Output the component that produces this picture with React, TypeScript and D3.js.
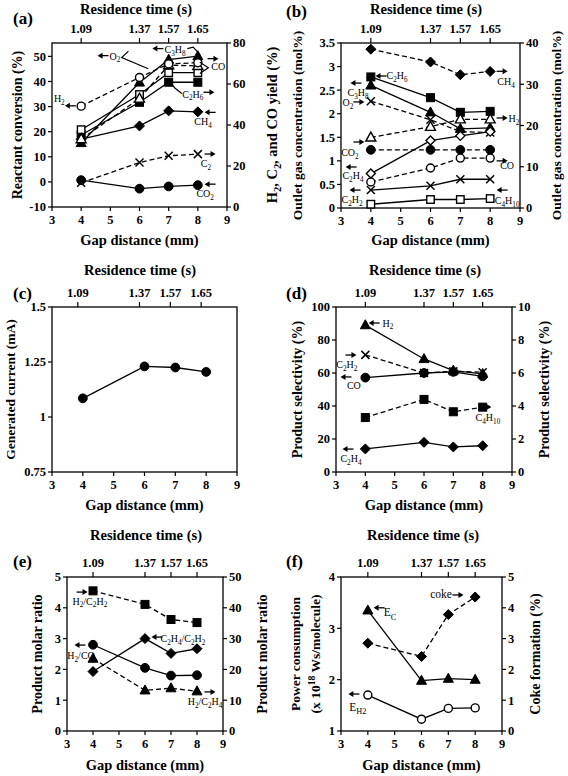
import React from 'react';
import * as d3 from 'd3';

// ---------- shared axis data ----------
const gaps = [4, 6, 7, 8];
const residenceTimes = ['1.09', '1.37', '1.57', '1.65'];
const gapTicks = [3, 4, 5, 6, 7, 8, 9];

// ---------- (a) reactant conversion (left, %) / yields (right, %) ----------
const aCH4 = [17, 22.3, 28.3, 27.9];
const aC2H6 = [18.7, 31.7, 39.7, 39.7];
const aC3H8 = [15.5, 39.6, 48.7, 50.1];
const aO2 = [20.8, 34.8, 43.5, 43.5];
const aCO2 = [0.7, -2.7, -1.8, -1.3];
const aH2 = [49.2, 63.2, 69.8, 70.4];
const aCO = [33.1, 52.9, 69.2, 68.8];
const aC2 = [11.8, 21.7, 25, 25.8];
const aLeftTicks = [-10, 0, 10, 20, 30, 40, 50];
const aRightTicks = [0, 20, 40, 60, 80];

// ---------- (b) outlet gas concentration (mol%) ----------
const bCH4 = [38.5, 35.4, 32.3, 33.1];
const bC2H6 = [2.78, 2.34, 2.03, 2.05];
const bC3H8 = [2.6, 2.03, 1.68, 1.7];
const bO2 = [25.9, 21.4, 18.5, 18.3];
const bH2 = [17.1, 19.7, 21.5, 21.5];
const bCO2 = [14.1, 14.1, 14.1, 14.1];
const bCO = [6.3, 9.7, 12.1, 12.1];
const bC2H4 = [0.73, 1.43, 1.53, 1.62];
const bC2H2 = [0.38, 0.47, 0.61, 0.61];
const bC4H10 = [0.08, 0.18, 0.18, 0.2];
const bLeftTicks = [0, 0.5, 1, 1.5, 2, 2.5, 3, 3.5];
const bRightTicks = [0, 10, 20, 30, 40];

// ---------- (c) generated current (mA) ----------
const cCurrent = [1.085, 1.23, 1.225, 1.205];
const cLeftTicks = [0.75, 1, 1.25, 1.5];

// ---------- (d) product selectivity (%) ----------
const dH2 = [89, 68.5, 61.5, 59.5];
const dC2H2 = [7.1, 6.0, 6.1, 6.05];
const dCO = [57.2, 60, 60.7, 58];
const dC4H10 = [3.3, 4.4, 3.65, 3.93];
const dC2H4 = [14, 18, 15.2, 15.9];
const dLeftTicks = [0, 20, 40, 60, 80, 100];
const dRightTicks = [0, 2, 4, 6, 8, 10];

// ---------- (e) product molar ratio ----------
const eH2C2H2 = [45.5, 41.1, 36.2, 35.2];
const eC2H4C2H2 = [1.93, 3.0, 2.52, 2.67];
const eH2CO = [2.8, 2.05, 1.8, 1.81];
const eH2C2H4 = [23.5, 13.2, 13.9, 12.9];
const eLeftTicks = [0, 1, 2, 3, 4, 5];
const eRightTicks = [0, 10, 20, 30, 40, 50];

// ---------- (f) power consumption / coke ----------
const fEC = [3.35, 1.98, 2.02, 2.0];
const fEH2 = [1.7, 1.23, 1.44, 1.45];
const fCoke = [2.85, 2.42, 3.78, 4.35];
const fLeftTicks = [1, 2, 3, 4];
const fRightTicks = [0, 1, 2, 3, 4, 5];

const FONT = "'Liberation Serif', 'Times New Roman', Times, serif";

type Series = { vals: number[]; axis: 'L' | 'R'; marker: string; dashed?: boolean };
type Note = { t: string; x: number; y: number };
type Arrow = { x: number; y: number; dir: 'l' | 'r' };

// "_x" / "_{..}" = subscript, "^{..}" = superscript
function rich(s: string, fs: number) {
  const out: any[] = [];
  let buf = '';
  let key = 0;
  let i = 0;
  let pendingDy = 0;
  const flush = () => {
    if (buf) {
      out.push(
        <tspan key={key++} dy={pendingDy || undefined}>
          {buf}
        </tspan>
      );
      pendingDy = 0;
      buf = '';
    }
  };
  while (i < s.length) {
    const c = s[i];
    if ((c === '_' || c === '^') && i + 1 < s.length) {
      flush();
      let content = '';
      if (s[i + 1] === '{') {
        const j = s.indexOf('}', i + 2);
        content = s.slice(i + 2, j);
        i = j + 1;
      } else {
        content = s[i + 1];
        i += 2;
      }
      const shift = c === '_' ? fs * 0.28 : -fs * 0.38;
      out.push(
        <tspan key={key++} fontSize={fs * 0.72} dy={shift + pendingDy}>
          {content}
        </tspan>
      );
      pendingDy = -shift;
    } else {
      buf += c;
      i++;
    }
  }
  flush();
  return out;
}

function Marker({ type, cx, cy }: { type: string; cx: number; cy: number }) {
  const open = type.endsWith('Open');
  const fill = open ? 'white' : 'black';
  const sw = open ? 1.4 : 1;
  const base = type.replace('Open', '');
  if (base === 'circle') return <circle cx={cx} cy={cy} r={open ? 4 : 4.4} fill={fill} stroke="black" strokeWidth={sw} />;
  if (base === 'square') {
    const s = open ? 7.5 : 8;
    return <rect x={cx - s / 2} y={cy - s / 2} width={s} height={s} fill={fill} stroke="black" strokeWidth={sw} />;
  }
  if (base === 'tri') {
    const h = 9;
    const w = 10;
    return (
      <path
        d={`M${cx},${cy - h * 0.6}L${cx + w / 2},${cy + h * 0.4}L${cx - w / 2},${cy + h * 0.4}Z`}
        fill={fill}
        stroke="black"
        strokeWidth={sw}
      />
    );
  }
  if (base === 'diamond') {
    const r = open ? 4.5 : 5;
    return (
      <path d={`M${cx},${cy - r}L${cx + r},${cy}L${cx},${cy + r}L${cx - r},${cy}Z`} fill={fill} stroke="black" strokeWidth={sw} />
    );
  }
  const r = 4;
  return (
    <g stroke="black" strokeWidth={1.5}>
      <line x1={cx - r} y1={cy - r} x2={cx + r} y2={cy + r} />
      <line x1={cx - r} y1={cy + r} x2={cx + r} y2={cy - r} />
    </g>
  );
}

type PanelCfg = {
  tag: string;
  x0: number; x1: number; y0: number; y1: number;
  yL: [number, number]; yLTicks: number[];
  yR?: [number, number]; yRTicks?: number[];
  resX: number; resY: number; tagX: number; tagY: number;
  leftTitle: string[]; leftTitleX: number[]; leftSize: number;
  rightTitle?: string; rightTitleX?: number; rightSize?: number;
  gapY: number; topShift: number;
  series: Series[]; notes: Note[]; arrows: Arrow[]; callouts?: [number, number][][];
  noteSize: number;
};

function Panel({ p }: { p: PanelCfg }) {
  const x = d3.scaleLinear().domain([3, 9]).range([p.x0, p.x1]);
  const yL = d3.scaleLinear().domain(p.yL).range([p.y1, p.y0]);
  const yR = p.yR ? d3.scaleLinear().domain(p.yR).range([p.y1, p.y0]) : yL;
  const midX = (p.x0 + p.x1) / 2;
  const midY = (p.y0 + p.y1) / 2;
  const fmt = (v: number) => String(v);
  const ts = { fontFamily: FONT };
  return (
    <g style={ts}>
      {/* titles */}
      <text x={p.resX} y={p.resY} textAnchor="middle" fontWeight="bold" fontSize={14.5} style={ts}>
        Residence time (s)
      </text>
      <text x={p.tagX} y={p.tagY} fontWeight="bold" fontSize={17} style={ts}>
        ({p.tag})
      </text>
      <text x={midX} y={p.gapY} textAnchor="middle" fontWeight="bold" fontSize={14.5} style={ts}>
        Gap distance (mm)
      </text>
      {p.leftTitle.map((t, i) => (
        <text
          key={i}
          transform={`translate(${p.leftTitleX[i]},${midY}) rotate(-90)`}
          textAnchor="middle"
          dy="0.35em"
          fontWeight="bold"
          fontSize={p.leftSize}
          style={ts}
        >
          {rich(t, p.leftSize)}
        </text>
      ))}
      {p.rightTitle && (
        <text
          transform={`translate(${p.rightTitleX},${midY}) rotate(-90)`}
          textAnchor="middle"
          dy="0.35em"
          fontWeight="bold"
          fontSize={p.rightSize}
          style={ts}
        >
          {rich(p.rightTitle, p.rightSize || 14)}
        </text>
      )}
      {/* frame */}
      <rect x={p.x0} y={p.y0} width={p.x1 - p.x0} height={p.y1 - p.y0} fill="none" stroke="black" strokeWidth={1.3} />
      {/* bottom ticks */}
      {gapTicks.map((g) => (
        <g key={'b' + g}>
          <line x1={x(g)} x2={x(g)} y1={p.y1} y2={p.y1 + 4} stroke="black" strokeWidth={1.2} />
          <text x={x(g)} y={p.y1 + 17} textAnchor="middle" fontWeight="bold" fontSize={12.5} style={ts}>
            {g}
          </text>
        </g>
      ))}
      {/* top ticks */}
      {gaps.map((g, i) => (
        <g key={'t' + g}>
          <line x1={x(g) + p.topShift} x2={x(g) + p.topShift} y1={p.y0} y2={p.y0 - 5} stroke="black" strokeWidth={1.2} />
          <text x={x(g) + p.topShift} y={p.y0 - 10} textAnchor="middle" fontWeight="bold" fontSize={12.5} style={ts}>
            {residenceTimes[i]}
          </text>
        </g>
      ))}
      {/* left ticks */}
      {p.yLTicks.map((v) => (
        <g key={'l' + v}>
          <line x1={p.x0 - 4} x2={p.x0} y1={yL(v)} y2={yL(v)} stroke="black" strokeWidth={1.2} />
          <text x={p.x0 - 6} y={yL(v)} dy="0.35em" textAnchor="end" fontWeight="bold" fontSize={12.5} style={ts}>
            {fmt(v)}
          </text>
        </g>
      ))}
      {/* right ticks */}
      {p.yRTicks &&
        p.yRTicks.map((v) => (
          <g key={'r' + v}>
            <line x1={p.x1} x2={p.x1 + 4} y1={yR(v)} y2={yR(v)} stroke="black" strokeWidth={1.2} />
            <text x={p.x1 + 6} y={yR(v)} dy="0.35em" textAnchor="start" fontWeight="bold" fontSize={12.5} style={ts}>
              {fmt(v)}
            </text>
          </g>
        ))}
      {/* series lines */}
      {p.series.map((s, k) => {
        const ys = s.axis === 'L' ? yL : yR;
        const line = d3
          .line<number>()
          .x((_, i) => x(gaps[i]))
          .y((v) => ys(v));
        return (
          <path
            key={'s' + k}
            d={line(s.vals) || ''}
            fill="none"
            stroke="black"
            strokeWidth={1.3}
            strokeDasharray={s.dashed ? '5,3' : undefined}
          />
        );
      })}
      {/* markers */}
      {p.series.map((s, k) => {
        const ys = s.axis === 'L' ? yL : yR;
        return (
          <g key={'m' + k}>
            {s.vals.map((v, i) => (
              <Marker key={i} type={s.marker} cx={x(gaps[i])} cy={ys(v)} />
            ))}
          </g>
        );
      })}
      {/* callouts */}
      {(p.callouts || []).map((c, k) => (
        <polyline
          key={'c' + k}
          points={c.map(([cx, cy]) => `${x(cx)},${yL(cy)}`).join(' ')}
          fill="none"
          stroke="black"
          strokeWidth={1.2}
        />
      ))}
      {/* arrows */}
      {p.arrows.map((a, k) => {
        const cx = x(a.x);
        const cy = yL(a.y);
        const d = a.dir === 'r' ? 1 : -1;
        const L = 11;
        const tip = cx + (d * L) / 2;
        const tail = cx - (d * L) / 2;
        return (
          <g key={'a' + k}>
            <line x1={tail} y1={cy} x2={tip - d * 4} y2={cy} stroke="black" strokeWidth={1.3} />
            <path d={`M${tip},${cy}L${tip - d * 5},${cy - 3}L${tip - d * 5},${cy + 3}Z`} fill="black" />
          </g>
        );
      })}
      {/* notes */}
      {p.notes.map((n, k) => (
        <text key={'n' + k} x={x(n.x)} y={yL(n.y) + p.noteSize * 0.3} textAnchor="middle" fontSize={p.noteSize} fill="black" style={ts}>
          {rich(n.t, p.noteSize)}
        </text>
      ))}
    </g>
  );
}

const panels: PanelCfg[] = [
  {
    tag: 'a', x0: 52, x1: 227, y0: 43, y1: 207,
    yL: [-10, 55.33], yLTicks: aLeftTicks, yR: [0, 80], yRTicks: aRightTicks,
    resX: 136, resY: 14, tagX: 13, tagY: 24,
    leftTitle: ['Reactant conversion (%)'], leftTitleX: [17], leftSize: 14,
    rightTitle: 'H_2, C_2, and CO yield (%)', rightTitleX: 272, rightSize: 14.5,
    gapY: 245, topShift: 0, noteSize: 10,
    series: [
      { vals: aCH4, axis: 'L', marker: 'diamond' },
      { vals: aC2H6, axis: 'L', marker: 'square' },
      { vals: aO2, axis: 'L', marker: 'squareOpen' },
      { vals: aC3H8, axis: 'L', marker: 'tri' },
      { vals: aCO, axis: 'R', marker: 'triOpen', dashed: true },
      { vals: aH2, axis: 'R', marker: 'circleOpen', dashed: true },
      { vals: aC2, axis: 'R', marker: 'x', dashed: true },
      { vals: aCO2, axis: 'L', marker: 'circle' },
    ],
    notes: [
      { t: 'H_2', x: 3.25, y: 33.1 },
      { t: 'O_2', x: 5.16, y: 49.9 },
      { t: 'C_3H_8', x: 7.22, y: 52.5 },
      { t: 'CO', x: 8.7, y: 45.9 },
      { t: 'C_2H_6', x: 7.83, y: 34.8 },
      { t: 'CH_4', x: 8.18, y: 23.7 },
      { t: 'C_2', x: 8.28, y: 7.2 },
      { t: 'CO_2', x: 8.25, y: -4.8 },
    ],
    arrows: [
      { x: 3.63, y: 30.3, dir: 'l' },
      { x: 4.75, y: 50.3, dir: 'l' },
      { x: 6.63, y: 53.1, dir: 'l' },
      { x: 8.52, y: 49.1, dir: 'r' },
      { x: 8.38, y: 35.7, dir: 'r' },
      { x: 8.42, y: 27.7, dir: 'l' },
      { x: 8.42, y: 11.1, dir: 'r' },
      { x: 8.42, y: -0.9, dir: 'l' },
    ],
    callouts: [
      [[5.62, 52.1], [5.39, 49.5], [6.3, 45.1]],
      [[7.64, 53.1], [7.84, 53.7], [8.07, 50.8]],
      [[8.07, 47.7], [8.36, 45.5], [8.07, 43.2]],
      [[7.45, 35.2], [7.2, 37.5], [7.08, 39.7]],
    ],
  },
  {
    tag: 'b', x0: 341, x1: 520, y0: 43, y1: 208,
    yL: [0, 3.5], yLTicks: bLeftTicks, yR: [0, 40], yRTicks: bRightTicks,
    resX: 426, resY: 14, tagX: 286, tagY: 17,
    leftTitle: ['Outlet gas concentration (mol%)'], leftTitleX: [297], leftSize: 13.5,
    rightTitle: 'Outlet gas concentration (mol%)', rightTitleX: 556, rightSize: 13.5,
    gapY: 245, topShift: 0, noteSize: 10,
    series: [
      { vals: bCH4, axis: 'R', marker: 'diamond', dashed: true },
      { vals: bC2H6, axis: 'L', marker: 'square' },
      { vals: bC3H8, axis: 'L', marker: 'tri' },
      { vals: bO2, axis: 'R', marker: 'x', dashed: true },
      { vals: bH2, axis: 'R', marker: 'triOpen', dashed: true },
      { vals: bCO2, axis: 'R', marker: 'circle', dashed: true },
      { vals: bCO, axis: 'R', marker: 'circleOpen', dashed: true },
      { vals: bC2H4, axis: 'L', marker: 'diamondOpen' },
      { vals: bC2H2, axis: 'L', marker: 'x' },
      { vals: bC4H10, axis: 'L', marker: 'squareOpen' },
    ],
    notes: [
      { t: 'C_2H_6', x: 4.88, y: 2.8 },
      { t: 'CH_4', x: 8.53, y: 2.67 },
      { t: 'C_3H_8', x: 3.57, y: 2.44 },
      { t: 'O_2', x: 3.23, y: 2.23 },
      { t: 'H_2', x: 8.8, y: 1.88 },
      { t: 'CO_2', x: 3.3, y: 1.17 },
      { t: 'CO', x: 8.57, y: 0.9 },
      { t: 'C_2H_4', x: 3.4, y: 0.67 },
      { t: 'C_2H_2', x: 3.37, y: 0.16 },
      { t: 'C_4H_{10}', x: 8.57, y: 0.14 },
    ],
    arrows: [
      { x: 4.34, y: 2.8, dir: 'l' },
      { x: 8.4, y: 2.9, dir: 'r' },
      { x: 3.5, y: 2.65, dir: 'l' },
      { x: 3.6, y: 2.25, dir: 'r' },
      { x: 8.4, y: 1.91, dir: 'r' },
      { x: 3.6, y: 1.4, dir: 'r' },
      { x: 8.4, y: 1.0, dir: 'r' },
      { x: 3.34, y: 0.87, dir: 'l' },
      { x: 3.47, y: 0.38, dir: 'l' },
      { x: 8.4, y: 0.38, dir: 'l' },
    ],
  },
  {
    tag: 'c', x0: 52, x1: 237, y0: 307, y1: 472,
    yL: [0.75, 1.5], yLTicks: cLeftTicks,
    resX: 140, resY: 275, tagX: 13, tagY: 299,
    leftTitle: ['Generated current (mA)'], leftTitleX: [10], leftSize: 13.5,
    gapY: 510, topShift: -5, noteSize: 10,
    series: [{ vals: cCurrent, axis: 'L', marker: 'circle' }],
    notes: [],
    arrows: [],
  },
  {
    tag: 'd', x0: 336, x1: 512, y0: 307, y1: 472,
    yL: [0, 100], yLTicks: dLeftTicks, yR: [0, 10], yRTicks: dRightTicks,
    resX: 425, resY: 275, tagX: 286, tagY: 299,
    leftTitle: ['Product selectivity (%)'], leftTitleX: [297], leftSize: 14,
    rightTitle: 'Product selectivity (%)', rightTitleX: 544, rightSize: 14,
    gapY: 510, topShift: 0, noteSize: 10,
    series: [
      { vals: dC4H10, axis: 'R', marker: 'square', dashed: true },
      { vals: dC2H2, axis: 'R', marker: 'x', dashed: true },
      { vals: dCO, axis: 'L', marker: 'circle' },
      { vals: dH2, axis: 'L', marker: 'tri' },
      { vals: dC2H4, axis: 'L', marker: 'diamond' },
    ],
    notes: [
      { t: 'H_2', x: 4.77, y: 90 },
      { t: 'C_2H_2', x: 3.37, y: 64.8 },
      { t: 'CO', x: 3.61, y: 52 },
      { t: 'C_4H_{10}', x: 8.18, y: 32.7 },
      { t: 'C_2H_4', x: 3.51, y: 7.9 },
    ],
    arrows: [
      { x: 4.3, y: 90.3, dir: 'l' },
      { x: 3.51, y: 70.9, dir: 'r' },
      { x: 3.34, y: 57.6, dir: 'l' },
      { x: 8.11, y: 39.4, dir: 'r' },
      { x: 3.41, y: 13.9, dir: 'l' },
    ],
  },
  {
    tag: 'e', x0: 67, x1: 223, y0: 577, y1: 731,
    yL: [0, 5], yLTicks: eLeftTicks, yR: [0, 50], yRTicks: eRightTicks,
    resX: 146, resY: 540, tagX: 13, tagY: 567,
    leftTitle: ['Product molar ratio'], leftTitleX: [37], leftSize: 14,
    rightTitle: 'Product molar ratio', rightTitleX: 262, rightSize: 14,
    gapY: 770, topShift: 0, noteSize: 10,
    series: [
      { vals: eH2C2H2, axis: 'R', marker: 'square', dashed: true },
      { vals: eH2C2H4, axis: 'R', marker: 'tri', dashed: true },
      { vals: eH2CO, axis: 'L', marker: 'circle' },
      { vals: eC2H4C2H2, axis: 'L', marker: 'diamond' },
    ],
    notes: [
      { t: 'H_2/C_2H_2', x: 3.88, y: 4.2 },
      { t: 'C_2H_4/C_2H_2', x: 7.46, y: 2.98 },
      { t: 'H_2/CO', x: 3.54, y: 2.43 },
      { t: 'H_2/C_2H_4', x: 8.31, y: 0.95 },
    ],
    arrows: [
      { x: 3.58, y: 4.51, dir: 'r' },
      { x: 6.46, y: 3.05, dir: 'l' },
      { x: 3.5, y: 2.79, dir: 'l' },
      { x: 8.5, y: 1.27, dir: 'r' },
    ],
  },
  {
    tag: 'f', x0: 341, x1: 502, y0: 577, y1: 731,
    yL: [1, 4], yLTicks: fLeftTicks, yR: [0, 5], yRTicks: fRightTicks,
    resX: 423, resY: 540, tagX: 286, tagY: 567,
    leftTitle: ['Power consumption', '(x 10^{18} Ws/molecule)'], leftTitleX: [295, 315], leftSize: 13.5,
    rightTitle: 'Coke formation (%)', rightTitleX: 535, rightSize: 14,
    gapY: 770, topShift: 0, noteSize: 11.5,
    series: [
      { vals: fCoke, axis: 'R', marker: 'diamond', dashed: true },
      { vals: fEC, axis: 'L', marker: 'tri' },
      { vals: fEH2, axis: 'L', marker: 'circleOpen' },
    ],
    notes: [
      { t: 'coke', x: 6.73, y: 3.65 },
      { t: 'E_C', x: 4.83, y: 3.3 },
      { t: 'E_{H2}', x: 3.63, y: 1.46 },
    ],
    arrows: [
      { x: 7.36, y: 3.65, dir: 'r' },
      { x: 4.42, y: 3.4, dir: 'l' },
      { x: 3.48, y: 1.72, dir: 'l' },
    ],
  },
];

export default function App() {
  return (
    <svg
      width={568}
      height={776}
      viewBox="0 0 568 776"
      style={{ position: 'absolute', left: 0, top: 0, background: 'white', fontFamily: FONT }}
    >
      <rect width={568} height={776} fill="white" />
      {panels.map((p) => (
        <Panel key={p.tag} p={p} />
      ))}
    </svg>
  );
}
